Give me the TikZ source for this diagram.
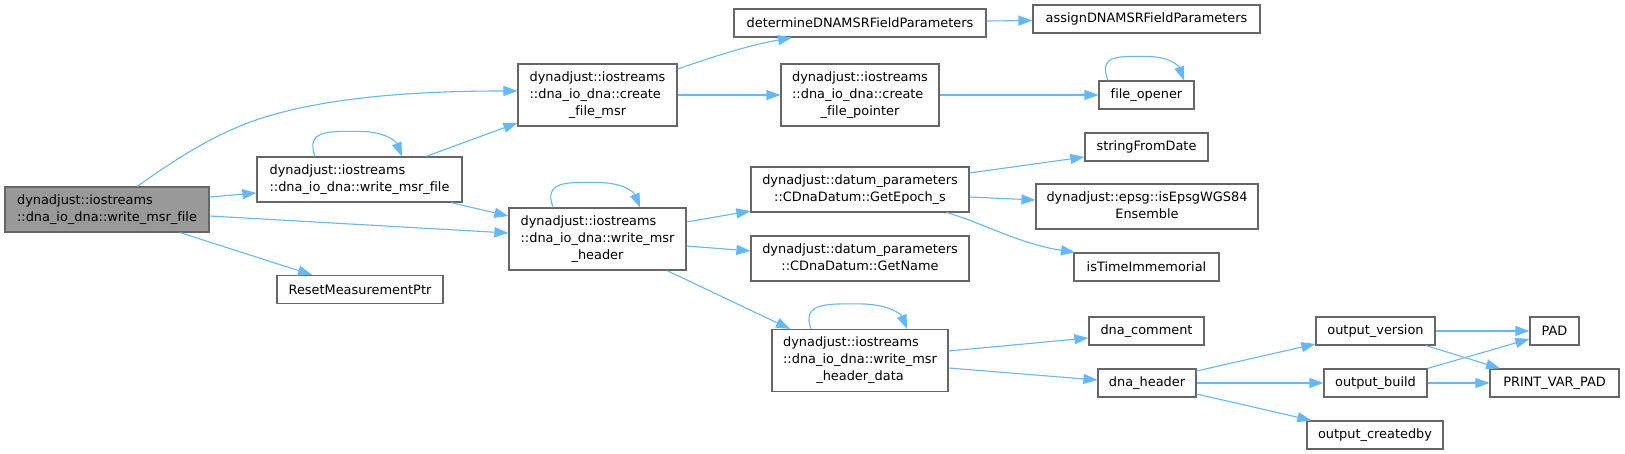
\documentclass[tikz,border=0pt]{standalone}
\usepackage{fontspec}
\setmainfont{DejaVu Sans}[Ligatures=NoCommon]
\usetikzlibrary{arrows.meta,calc}
\definecolor{edgeblue}{HTML}{63B8FF}
\definecolor{nodegray}{HTML}{666666}
\definecolor{mainfill}{HTML}{999999}
\newcommand\nlbl[2]{\begin{tabular}{@{}l@{}}#1\\\multicolumn{1}{@{}c@{}}{#2}\end{tabular}}
\tikzset{
  fn/.style={draw=nodegray, line width=1.2pt, fill=white, inner sep=0pt, text=black,
    font=\fontsize{12.9}{17}\selectfont},
  box/.style 2 args={fn, minimum width=#1, minimum height=#2},
  edge/.style={draw=edgeblue, line width=1.1pt, -{Triangle[length=14pt,width=10pt]}},
}
\begin{document}
\begin{tikzpicture}[x=1pt,y=-1pt]
\path[use as bounding box, fill=white] (0,0) rectangle (1625,454);

% nodes
\node[box={204}{45}, fill=mainfill] (main) at (107,209.5) {\nlbl{dynadjust::iostreams}{::dna\_io\_dna::write\_msr\_file}};
\node[box={205}{45}] (wmf) at (359.5,179.5) {\nlbl{dynadjust::iostreams}{::dna\_io\_dna::write\_msr\_file}};
\node[box={166}{28}] (reset) at (360,289.5) {ResetMeasurementPtr};
\node[box={159}{62}] (cfm) at (597.5,95) {\nlbl{dynadjust::iostreams\\::dna\_io\_dna::create}{\_file\_msr}};
\node[box={252}{28}] (det) at (860,23) {determineDNAMSRFieldParameters};
\node[box={158}{62}] (cfp) at (860,95) {\nlbl{dynadjust::iostreams\\::dna\_io\_dna::create}{\_file\_pointer}};
\node[box={227}{28}] (assign) at (1146.5,19) {assignDNAMSRFieldParameters};
\node[box={95}{28}] (fo) at (1146.5,95) {file\_opener};
\node[box={177}{62}] (wmh) at (597.5,239) {\nlbl{dynadjust::iostreams\\::dna\_io\_dna::write\_msr}{\_header}};
\node[box={218}{45}] (epoch) at (860,189.5) {\nlbl{dynadjust::datum\_parameters}{::CDnaDatum::GetEpoch\_s}};
\node[box={218}{45}] (getname) at (860,258.5) {\nlbl{dynadjust::datum\_parameters}{::CDnaDatum::GetName}};
\node[box={176}{62}] (wmhd) at (860,360.5) {\nlbl{dynadjust::iostreams\\::dna\_io\_dna::write\_msr}{\_header\_data}};
\node[box={123}{28}] (sfd) at (1146.5,147) {stringFromDate};
\node[box={222}{45}] (epsg) at (1147,206.5) {\nlbl{dynadjust::epsg::isEpsgWGS84}{Ensemble}};
\node[box={145}{28}] (istime) at (1146.5,267) {isTimeImmemorial};
\node[box={115}{28}] (dcom) at (1146.5,331) {dna\_comment};
\node[box={98}{28}] (dhead) at (1147,383) {dna\_header};
\node[box={119}{28}] (ov) at (1375.5,331) {output\_version};
\node[box={103}{28}] (ob) at (1375.5,383) {output\_build};
\node[box={136}{28}] (oc) at (1375,435) {output\_createdby};
\node[box={49}{28}] (pad) at (1554.5,331) {PAD};
\node[box={129}{28}] (pvp) at (1554.5,383) {PRINT\_VAR\_PAD};

% edges
\draw[edge] ($(main.north)+(30,0)$) .. controls (175,160) and (205,140) .. (245,124)
  .. controls (320,95) and (430,91) .. ($(cfm.west)+(0,-4)$);
\draw[edge] ($(main.east)+(0,-12.5)$) -- ($(wmf.west)+(0,13.5)$);
\draw[edge] ($(main.east)+(0,6.5)$) -- ($(wmh.west)+(0,-6)$);
\draw[edge] ($(main.south)+(73,0)$) -- ($(reset.north)+(-48,0)$);

\draw[edge] ($(wmf.north)+(-44.5,0)$) .. controls +(-10,-27) and +(-28,0) .. ($(wmf.north)+(-1,-25)$)
  .. controls +(27,0) and +(-6,-15) .. ($(wmf.north)+(42.5,0)$);
\draw[edge] ($(wmf.north)+(66.5,0)$) -- ($(cfm.west)+(0,28)$);
\draw[edge] ($(wmf.south)+(91.5,0)$) -- ($(wmh.west)+(0,-23)$);

\draw[edge] ($(cfm.east)+(0,-26)$) .. controls (710,58) and (745,46) .. ($(det.south)+(-68,0)$);
\draw[edge] (cfm.east) -- (cfp.west);
\draw[edge] ($(det.east)+(0,-2)$) -- ($(assign.west)+(0,1.5)$);
\draw[edge] (cfp.east) -- (fo.west);
\draw[edge] ($(fo.north)+(-38.5,0)$) .. controls +(-10,-26) and +(-26,0) .. ($(fo.north)+(-1,-24)$)
  .. controls +(25,0) and +(-5,-14) .. ($(fo.north)+(37.5,0)$);

\draw[edge] ($(wmh.north)+(-44.5,0)$) .. controls +(-10,-27) and +(-28,0) .. ($(wmh.north)+(-1,-25)$)
  .. controls +(27,0) and +(-6,-15) .. ($(wmh.north)+(42.5,0)$);
\draw[edge] ($(wmh.east)+(0,-17)$) -- ($(epoch.west)+(0,21.5)$);
\draw[edge] ($(wmh.east)+(0,7)$) -- ($(getname.west)+(0,-7.5)$);
\draw[edge] ($(wmh.south)+(69.5,0)$) -- ($(wmhd.north)+(-70,0)$);

\draw[edge] ($(wmhd.north)+(-49,0)$) .. controls +(-10,-27) and +(-30,0) .. ($(wmhd.north)+(-1,-25)$)
  .. controls +(29,0) and +(-6,-15) .. ($(wmhd.north)+(47,0)$);

\draw[edge] ($(epoch.east)+(0,-16.5)$) -- ($(sfd.west)+(0,10)$);
\draw[edge] ($(epoch.east)+(0,7.5)$) -- ($(epsg.west)+(0,-6.5)$);
\draw[edge] ($(epoch.south)+(87,0)$) .. controls (985,224) and (1020,244) .. ($(istime.north)+(-71.5,0)$);

\draw[edge] ($(wmhd.east)+(0,-9.5)$) -- ($(dcom.west)+(0,7)$);
\draw[edge] ($(wmhd.east)+(0,7.5)$) -- ($(dhead.west)+(0,-3)$);

\draw[edge] ($(dhead.east)+(0,-12)$) -- ($(ov.west)+(0,13)$);
\draw[edge] (dhead.east) -- (ob.west);
\draw[edge] ($(dhead.east)+(0,11)$) -- ($(oc.north west)+(5,0)$);

\draw[edge] (ov.east) -- (pad.west);
\draw[edge] ($(ov.south)+(50.5,0)$) -- ($(pvp.north)+(-54.5,0)$);
\draw[edge] (ob.north east) -- ($(pad.west)+(0,8)$);
\draw[edge] (ob.east) -- (pvp.west);
\end{tikzpicture}
\end{document}
